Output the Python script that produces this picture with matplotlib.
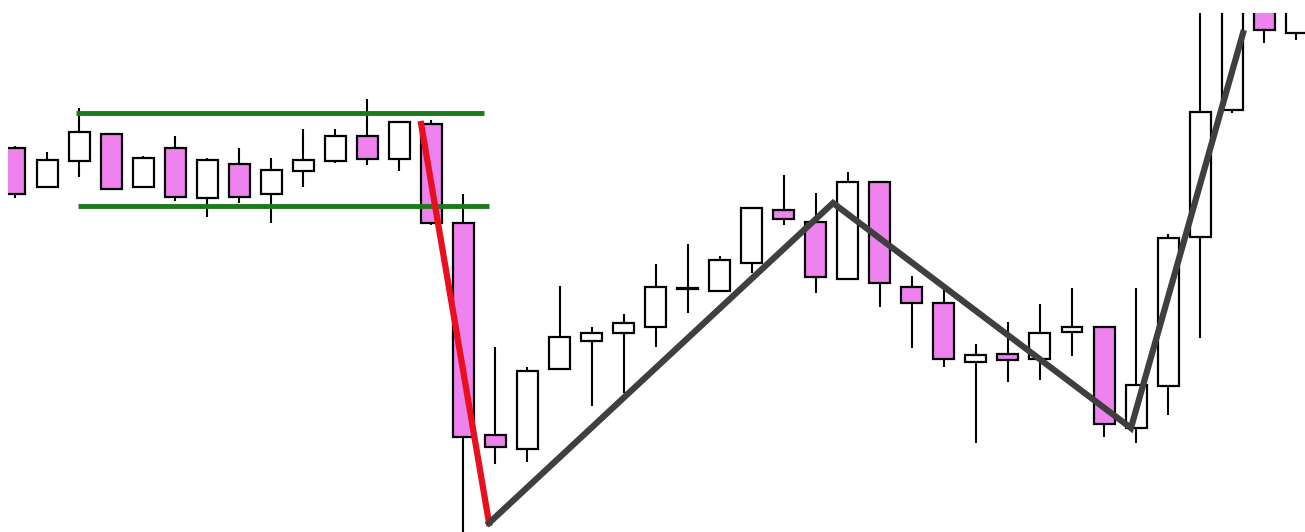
import numpy as np
from matplotlib import pyplot as plt

# candle data (index, price units)
opens  = [384, 345, 371, 398, 345, 384, 334, 368, 338, 361, 371, 396, 373, 408, 309,
          97, 83, 163, 191, 199, 205, 243, 241, 269, 322, 310, 253, 350, 245, 229,
          170, 178, 173, 200, 205, 104, 146, 295, 422, 530, 499]
closes = [338, 372, 400, 343, 374, 335, 372, 335, 362, 372, 396, 373, 410, 309, 95,
          85, 161, 195, 199, 209, 245, 243, 272, 324, 313, 255, 350, 249, 229, 173,
          177, 172, 199, 205, 108, 147, 294, 420, 552, 502, 540]
highs  = [386, 380, 424, 399, 376, 396, 374, 384, 374, 403, 403, 433, 410, 412, 338,
          185, 165, 246, 205, 218, 268, 288, 276, 324, 357, 339, 360, 350, 256, 242,
          188, 210, 228, 244, 205, 244, 298, 560, 570, 540, 550]
lows   = [334, 345, 355, 343, 345, 331, 315, 329, 309, 345, 369, 367, 361, 307, -10,
          68, 70, 162, 126, 139, 185, 219, 241, 259, 307, 239, 253, 225, 184, 165,
          89, 150, 152, 176, 95, 89, 117, 194, 419, 489, 492]

# range lines (green)
range_top = 419
range_bot = 326
range_x = [1.9, 14.65]

# swing lines
red_x = [12.68, 14.80]
red_y = [408, 9]
zig_x = [14.80, 25.54, 34.84, 38.34]
zig_y = [9, 329, 104, 499]

fig = plt.figure(figsize=(13.05, 5.32), dpi=100)
ax = fig.add_axes([8/1305, 0, 1297/1305, 519/532])

idx = np.arange(len(opens))
o = np.array(opens)
c = np.array(closes)
bottoms = np.minimum(o, c)
heights = np.abs(c - o)
colors = ['violet' if cc < oo else 'white' for oo, cc in zip(o, c)]
colors = ['black' if h == 0 else col for h, col in zip(heights, colors)]
heights = np.where(heights == 0, 1.5, heights)

ax.vlines(idx, lows, highs, color='black', lw=1.5, zorder=1)
ax.bar(idx, heights, bottom=bottoms, width=0.655, color=colors,
       edgecolor='black', linewidth=1.6, zorder=2)

ax.plot(range_x, [range_top, range_top], color='#1b7a1b', lw=3.5, zorder=3,
        solid_capstyle='butt')
ax.plot([1.97, 14.80], [range_bot, range_bot], color='#1b7a1b', lw=3.5, zorder=3,
        solid_capstyle='butt')

ax.plot(red_x, red_y, color='#e8101e', lw=4.5, zorder=4)
ax.plot(zig_x, zig_y, color='#3f3f3f', lw=4.5, zorder=4, solid_joinstyle='miter')

ax.set_xlim((8 - 15) / 32.03, (1305 - 15) / 32.03)
ax.set_ylim(0, 519)
ax.axis('off')

plt.savefig('out.png', dpi=100)
